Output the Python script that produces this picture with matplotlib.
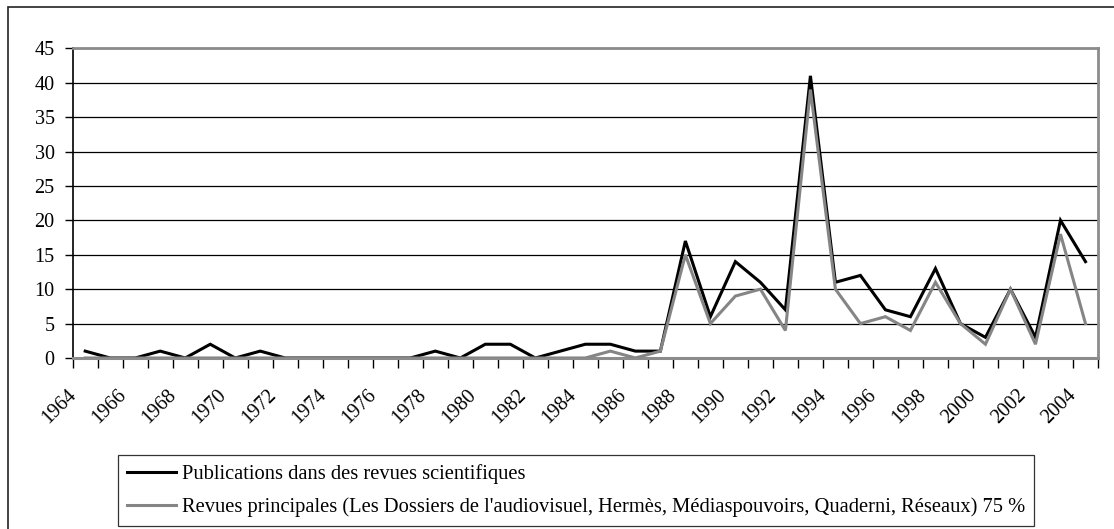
import matplotlib
matplotlib.use("Agg")
import matplotlib.pyplot as plt
from matplotlib.patches import Rectangle
from matplotlib.lines import Line2D
import matplotlib.transforms as mtransforms

years = list(range(1964, 2005))
publications = [1, 0, 0, 1, 0, 2, 0, 1, 0, 0,
                0, 0, 0, 0, 1, 0, 2, 2, 0, 1,
                2, 2, 1, 1, 17, 6, 14, 11, 7, 41,
                11, 12, 7, 6, 13, 5, 3, 10, 3, 20,
                14]
principales = [0, 0, 0, 0, 0, 0, 0, 0, 0, 0,
               0, 0, 0, 0, 0, 0, 0, 0, 0, 0,
               0, 1, 0, 1, 15, 5, 9, 10, 4, 39,
               10, 5, 6, 4, 11, 5, 2, 10, 2, 18,
               5]
label_pub = "Publications dans des revues scientifiques"
label_princ = ("Revues principales (Les Dossiers de l'audiovisuel, Hermès, "
               "Médiaspouvoirs, Quaderni, Réseaux) 75 %")
y_ticks = list(range(0, 50, 5))

plt.rcParams['font.family'] = ['Liberation Serif', 'DejaVu Serif']
FS = 14.5
FS_LEG = 14.8

W, H = 1114, 529
fig = plt.figure(figsize=(W / 100, H / 100), dpi=100)
left, right, top, bottom = 72.7, 1098, 48.3, 358
ax = fig.add_axes([left / W, 1 - bottom / H, (right - left) / W, (bottom - top) / H])

x = list(range(len(years)))
ax.plot(x, publications, color='black', lw=2.2, solid_joinstyle='miter', zorder=3)
ax.plot(x, principales, color='#858585', lw=2.2, solid_joinstyle='miter', zorder=4)

ax.set_xlim(-0.5, len(years) - 0.5)
ax.set_ylim(0, 45)

# horizontal gridlines
ax.set_yticks(y_ticks)
ax.yaxis.grid(True, color='black', lw=0.9)
ax.set_axisbelow(True)
ax.tick_params(axis='y', direction='out', length=6, width=1, color='black',
               labelsize=FS, pad=7)

# category ticks between categories, labels every second year
ax.set_xticks([i - 0.5 for i in range(len(years) + 1)], minor=True)
ax.set_xticks(x[::2])
ax.set_xticklabels([str(y) for y in years[::2]])
ax.tick_params(axis='x', which='minor', direction='out', length=7, width=1, color='black')
ax.tick_params(axis='x', which='major', length=0, labelsize=FS, pad=25)
offset = mtransforms.ScaledTranslation(-12 / 100, 0, fig.dpi_scale_trans)
for lab in ax.get_xticklabels():
    lab.set_rotation(45)
    lab.set_ha('right')
    lab.set_va('center')
    lab.set_rotation_mode('anchor')
    lab.set_transform(lab.get_transform() + offset)

for s in ['top', 'right']:
    ax.spines[s].set_color('#8c8c8c')
    ax.spines[s].set_linewidth(2)
ax.spines['bottom'].set_color('#8c8c8c')
ax.spines['bottom'].set_linewidth(2.2)
ax.spines['left'].set_color('black')
ax.spines['left'].set_linewidth(1.2)

# outer chart border
fig.patches.append(Rectangle((8 / W, -0.1), 1.2, (1 - 7 / H) + 0.1, transform=fig.transFigure,
                             fill=False, edgecolor='#222222', lw=1.2))

handles = [Line2D([], [], color='black', lw=2.2),
           Line2D([], [], color='#858585', lw=2.2)]
leg = fig.legend(handles, [label_pub, label_princ], loc='lower left',
                 bbox_to_anchor=(118 / W, 1 - 526 / H), fontsize=FS_LEG,
                 frameon=True, fancybox=False, handlelength=2.35, handletextpad=0.3,
                 labelspacing=0.62, borderpad=0.45, borderaxespad=0)
leg.get_frame().set_edgecolor('black')
leg.get_frame().set_linewidth(0.9)

fig.savefig('out.png', dpi=100)
